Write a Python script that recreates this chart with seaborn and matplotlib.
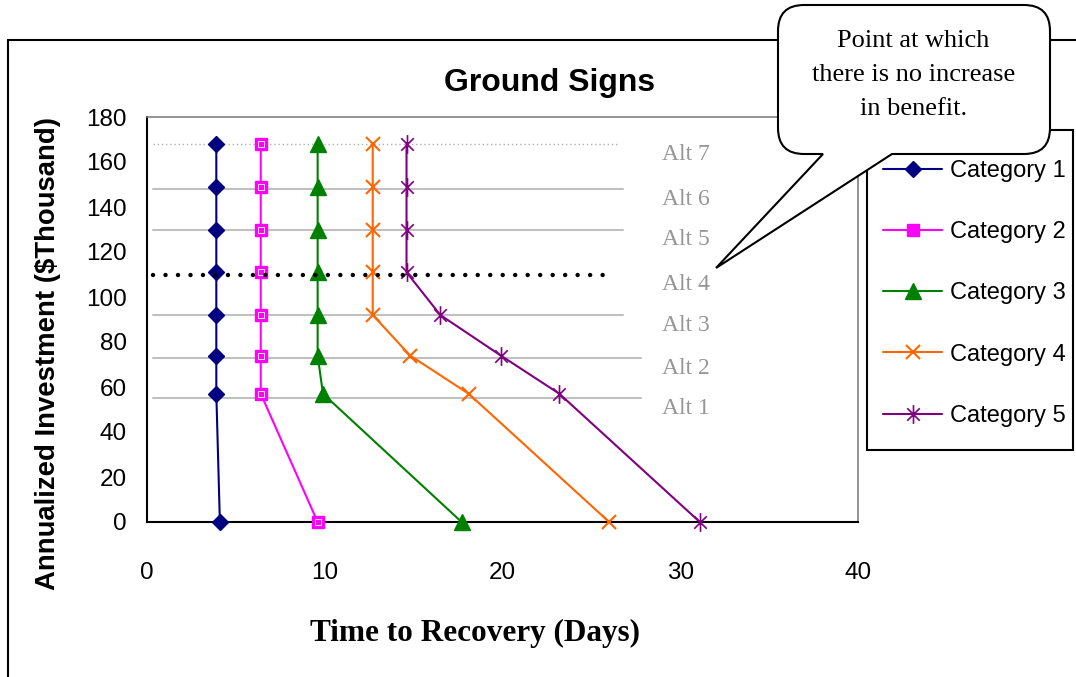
import matplotlib
matplotlib.use("Agg")
import matplotlib.pyplot as plt
import seaborn as sns
import pandas as pd
from matplotlib.path import Path
from matplotlib.patches import PathPatch, Rectangle

# ---------------- data ----------------
categories = ["Category 1", "Category 2", "Category 3", "Category 4", "Category 5"]
investment = [0, 57, 74, 92, 111, 130, 149, 168]
days_cat1 = [4.1, 3.9, 3.9, 3.9, 3.9, 3.9, 3.9, 3.9]
days_cat2 = [9.6, 6.4, 6.4, 6.4, 6.4, 6.4, 6.4, 6.4]
days_cat3 = [17.7, 9.9, 9.6, 9.6, 9.6, 9.6, 9.6, 9.6]
days_cat4 = [26.0, 18.1, 14.8, 12.7, 12.7, 12.7, 12.7, 12.7]
days_cat5 = [31.1, 23.2, 19.9, 16.5, 14.6, 14.6, 14.6, 14.6]
alt_labels = ["Alt 1", "Alt 2", "Alt 3", "Alt 4", "Alt 5", "Alt 6", "Alt 7"]
alt_levels = [55, 73, 92, 110, 130, 148, 168]
x_ticks = [0, 10, 20, 30, 40]
y_ticks = [0, 20, 40, 60, 80, 100, 120, 140, 160, 180]
title = "Ground Signs"
x_label = "Time to Recovery (Days)"
y_label = "Annualized Investment ($Thousand)"
callout = "Point at which\nthere is no increase\nin benefit."

days = [days_cat1, days_cat2, days_cat3, days_cat4, days_cat5]
df = pd.DataFrame({
    "Category": [c for c, d in zip(categories, days) for _ in d],
    "Days": [v for d in days for v in d],
    "Investment": investment * len(categories),
})

# ---------------- styles ----------------
W, H = 1076, 677
colors = ["#000080", "#FF00FF", "#008000", "#FF6600", "#800080"]
asterisk = Path([(-0.5, -0.5), (0.5, 0.5), (-0.5, 0.5), (0.5, -0.5), (0, -0.75), (0, 0.75)],
                [Path.MOVETO, Path.LINETO, Path.MOVETO, Path.LINETO, Path.MOVETO, Path.LINETO])
markers = ["D", "s", "^", "x", asterisk]
msizes = [8.5, 8.5, 11, 10.5, 13.5]
mews = [1.0, 1.0, 1.0, 1.5, 1.2]
alt_end = [27.8, 27.8, 26.8, 26.3, 26.8, 26.8, 26.5]
alt_start = 0.35

sns.set_theme(style="white")
plt.rcParams["font.family"] = ["Liberation Sans", "DejaVu Sans"]
for k in ["text.color", "axes.labelcolor", "xtick.color", "ytick.color"]:
    plt.rcParams[k] = "black"
SERIF = ["Liberation Serif", "DejaVu Serif"]

fig = plt.figure(figsize=(W / 100, H / 100), dpi=100)
ax = fig.add_axes([147 / W, 1 - 522 / H, (858 - 147) / W, (522 - 117) / H])

def px(x, y):
    return (x / W, 1 - y / H)

# outer chart frame
frame = Rectangle(px(8, 720), 1.2, (720 - 40) / H, transform=fig.transFigure,
                  fill=False, edgecolor="black", linewidth=1.5, zorder=0.5)
fig.add_artist(frame)

# alternative level lines
for i, (lab, lev) in enumerate(zip(alt_labels, alt_levels)):
    if lab == "Alt 4":
        ax.plot([alt_start, alt_end[i]], [lev, lev], color="black", lw=3.2,
                linestyle=(0, (0.01, 2.8)), dash_capstyle="round", zorder=5)
    elif lab == "Alt 7":
        ax.plot([alt_start, alt_end[i]], [lev, lev], color="#b0b0b0", lw=1,
                linestyle=(0, (1, 2)), zorder=1)
    else:
        ax.plot([alt_start, alt_end[i]], [lev, lev], color="#c0c0c0", lw=1.5, zorder=1)
    ax.text(28.95, lev - 7, lab, ha="left", va="baseline", color="#969696",
            fontsize=17, family=SERIF)

handles = []
for i, cat in enumerate(categories):
    sub = df[df["Category"] == cat]
    sns.lineplot(data=sub, x="Days", y="Investment", ax=ax, color=colors[i],
                 marker=markers[i], markersize=msizes[i], markeredgecolor=colors[i],
                 markerfacecolor=colors[i] if i < 3 else "none", markeredgewidth=mews[i],
                 lw=1.5, estimator=None, sort=False, label=cat, zorder=3, clip_on=False)
    handles.append(ax.lines[-1])
    if cat == "Category 2":
        ax.plot(sub["Days"], sub["Investment"], ls="none", marker="s", ms=4.5,
                mfc="none", mec="white", mew=0.6, zorder=4, clip_on=False)
if ax.get_legend() is not None:
    ax.get_legend().remove()

ax.set_xlim(0, 40)
ax.set_ylim(0, 180)
ax.set_xticks(x_ticks)
ax.set_yticks(y_ticks)
ax.tick_params(axis="both", direction="out", length=7.5, width=1.5, color="black",
               labelsize=17.5, labelcolor="black")
ax.tick_params(axis="x", pad=21)
ax.tick_params(axis="y", pad=7)
for s in ["left", "bottom"]:
    ax.spines[s].set_color("black")
    ax.spines[s].set_linewidth(1.5)
for s in ["top", "right"]:
    ax.spines[s].set_color("#808080")
    ax.spines[s].set_linewidth(1.2)
ax.grid(False)

ax.set_title(title, x=(550 - 147) / 711, y=(522 - 83) / 405, va="center", pad=0,
             fontsize=23, fontweight="bold", color="black")
ax.set_xlabel(x_label, fontsize=22.5, fontweight="bold", family=SERIF)
ax.xaxis.set_label_coords((475 - 147) / 711, (522 - 633) / 405)
ax.xaxis.label.set_va("center")
ax.set_ylabel(y_label, fontsize=19.8, fontweight="bold")
ax.yaxis.set_label_coords((48 - 147) / 711, (522 - 354) / 405)
ax.yaxis.label.set_va("center")

# legend (frame drawn separately so its box matches the reference)
leg_box = Rectangle(px(867, 450), (1073 - 867) / W, (450 - 130) / H,
                    transform=fig.transFigure, facecolor="white", edgecolor="black",
                    linewidth=1.5, zorder=1.5)
fig.add_artist(leg_box)
leg = fig.legend(handles=handles, labels=categories, loc="upper left",
                 bbox_to_anchor=px(883, 160), bbox_transform=fig.transFigure,
                 borderaxespad=0, fontsize=17, frameon=False,
                 handlelength=2.5, handletextpad=0.35,
                 labelspacing=1.66, borderpad=0)
leg.set_zorder(1.6)

# callout bubble
L, R, T, B, r = 778, 1050, 5, 154, 26
pts = [
    ((L + r, T), Path.MOVETO), ((R - r, T), Path.LINETO),
    ((R, T), Path.CURVE3), ((R, T + r), Path.CURVE3),
    ((R, B - r), Path.LINETO),
    ((R, B), Path.CURVE3), ((R - r, B), Path.CURVE3),
    ((892, B), Path.LINETO), ((716, 268), Path.LINETO), ((823, B), Path.LINETO),
    ((L + r, B), Path.LINETO),
    ((L, B), Path.CURVE3), ((L, B - r), Path.CURVE3),
    ((L, T + r), Path.LINETO),
    ((L, T), Path.CURVE3), ((L + r, T), Path.CURVE3),
    ((L + r, T), Path.CLOSEPOLY),
]
verts = [px(*p) for p, _ in pts]
codes = [c for _, c in pts]
bubble = PathPatch(Path(verts, codes), transform=fig.transFigure, facecolor="white",
                   edgecolor="black", linewidth=1.5, zorder=2)
fig.add_artist(bubble)
fig.text(*px(913.5, 75), callout, ha="center", va="center", fontsize=19,
         family=SERIF, linespacing=1.7, zorder=3)

fig.savefig("out.png", dpi=100)
